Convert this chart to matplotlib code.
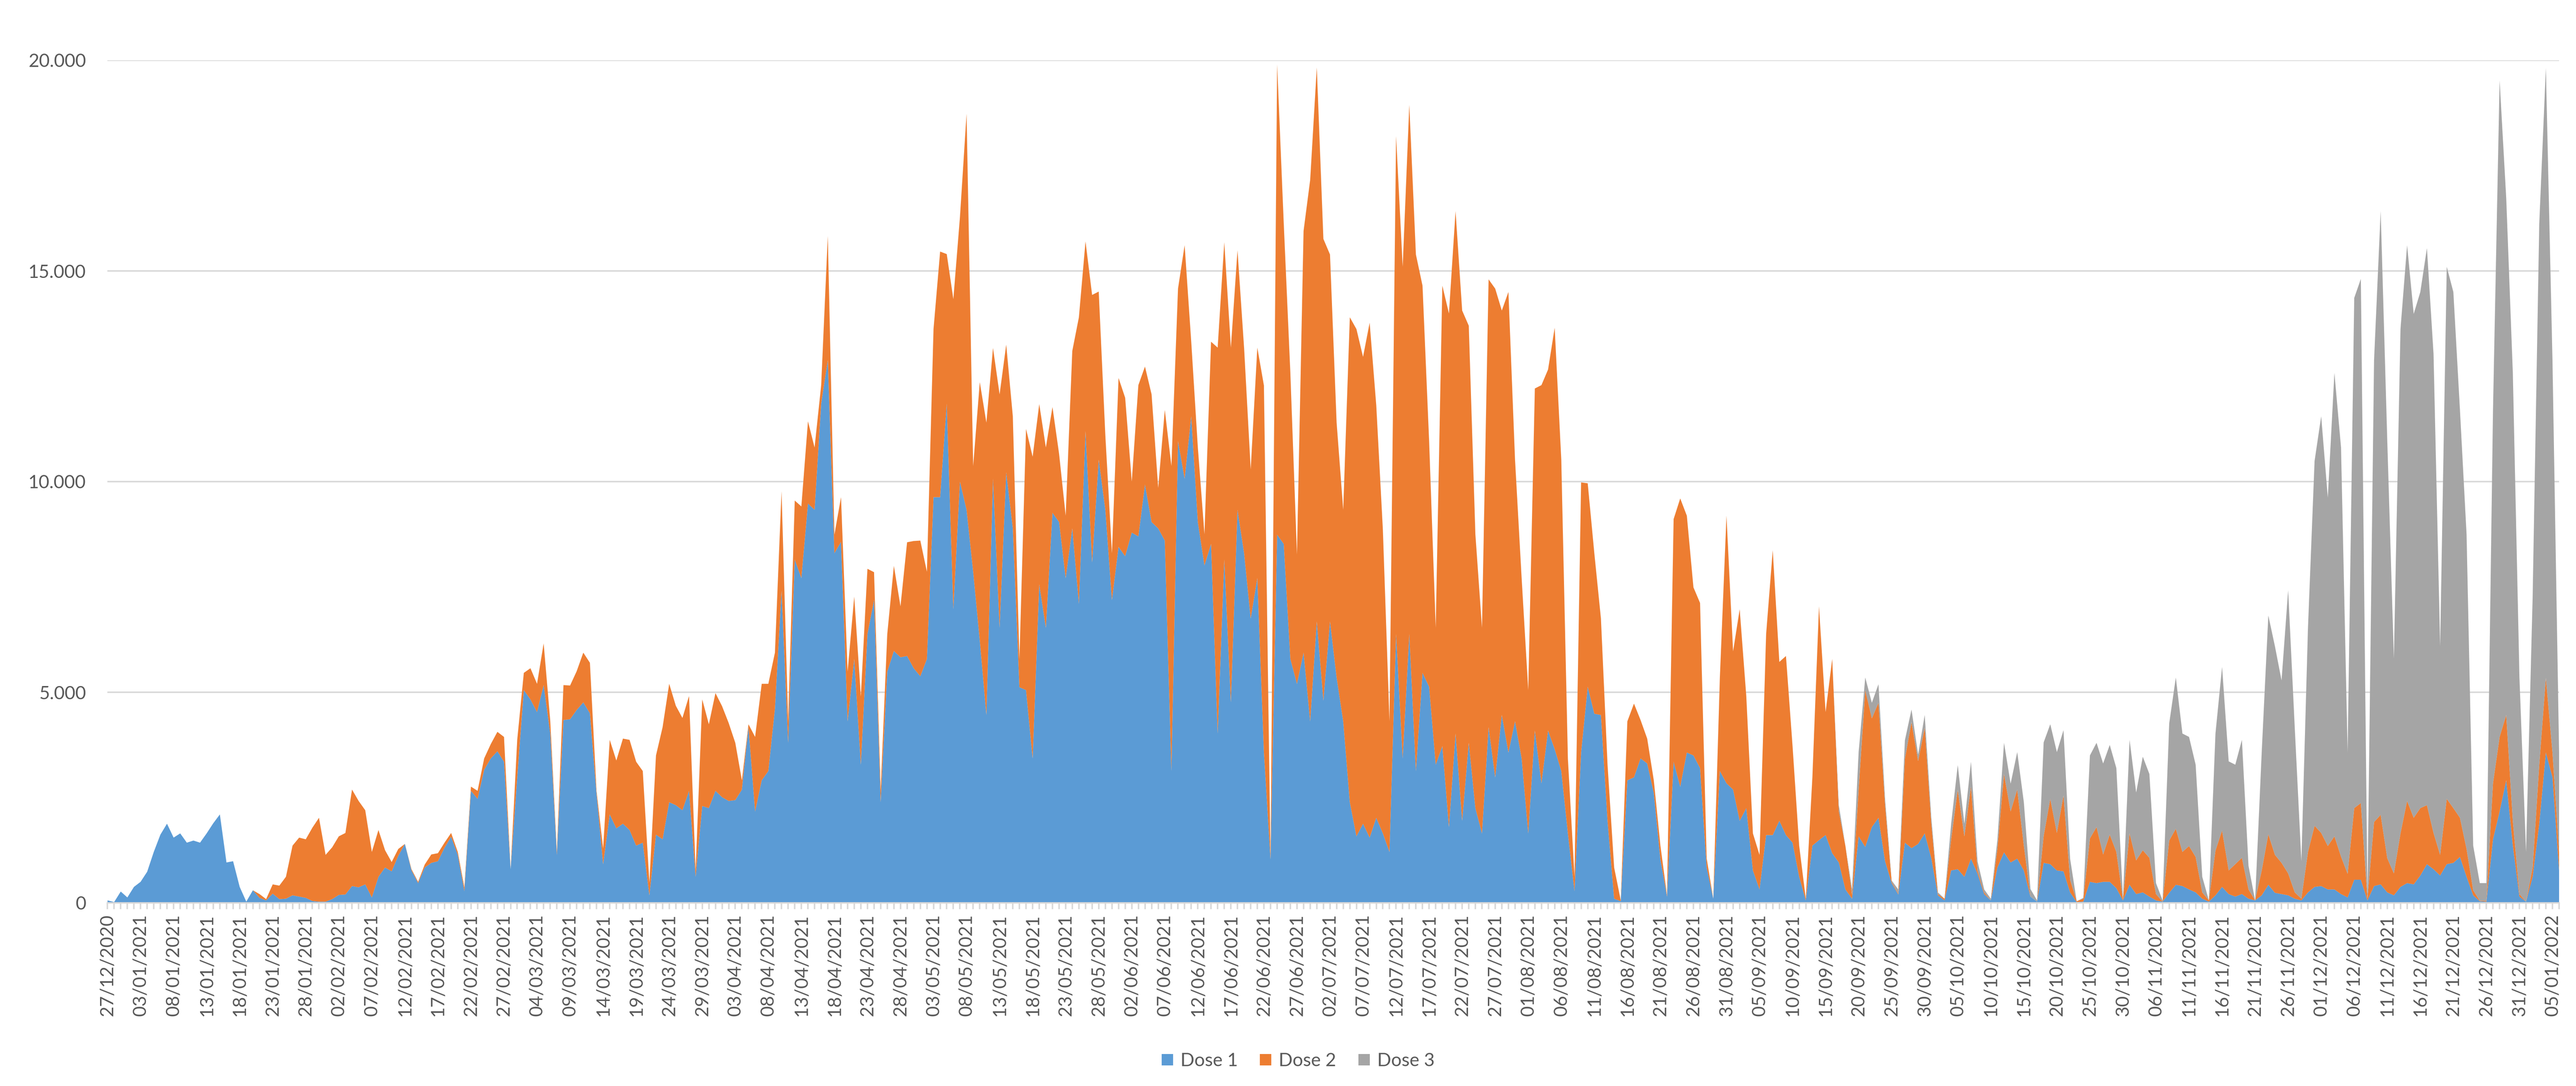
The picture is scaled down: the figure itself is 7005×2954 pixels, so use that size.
import matplotlib
matplotlib.use("Agg")
import matplotlib.pyplot as plt
import numpy as np
import pandas as pd
from matplotlib.ticker import FuncFormatter, MultipleLocator

# ---------------- data ----------------
first_day = "2020-12-27"
last_day = "2022-01-06"
missing_days = ["2020-12-28", "2020-12-29", "2021-10-31", "2021-11-01"]

series_names = ["Dose 1", "Dose 2", "Dose 3"]
series_colors = ["#5B9BD5", "#ED7D31", "#A5A5A5"]

dose1 = [
    60, 20, 270, 130, 380, 500, 740, 1210, 1620, 1880,
    1550, 1650, 1430, 1480, 1430, 1650, 1890, 2100, 960, 990,
    380, 30, 300, 120, 60, 220, 90, 100, 180, 150,
    120, 45, 30, 30, 90, 190, 200, 400, 370, 440,
    130, 620, 840, 750, 1120, 1400, 770, 470, 840, 950,
    990, 1310, 1570, 1140, 280, 2660, 2470, 3160, 3430, 3600,
    3350, 800, 2980, 5050, 4830, 4530, 5170, 4020, 1140, 4340,
    4360, 4580, 4760, 4500, 2590, 920, 2100, 1770, 1880, 1730,
    1360, 1430, 180, 1620, 1510, 2390, 2320, 2200, 2660, 620,
    2300, 2250, 2660, 2510, 2420, 2440, 2690, 4170, 2170, 2910,
    3130, 4610, 7410, 3800, 8150, 7710, 9480, 9330, 11850, 12880,
    8300, 8570, 4310, 5790, 3280, 6380, 7190, 2390, 5490, 5980,
    5830, 5860, 5570, 5380, 5790, 9630, 9630, 11850, 6970, 10000,
    9330, 7860, 6230, 4460, 10070, 6530, 10220, 8890, 5120, 5050,
    3430, 7560, 6530, 9260, 9040, 7710, 8890, 7100, 11200, 8080,
    10520, 9330, 7190, 8450, 8230, 8790, 8700, 9930, 9040, 8890,
    8600, 3130, 10960, 10070, 11550, 9040, 8010, 8520, 4020, 8150,
    4760, 9330, 8300, 6750, 7710, 3570, 1030, 8740, 8520, 5790,
    5200, 5940, 4310, 6680, 4800, 6680, 5350, 4310, 2390, 1580,
    1880, 1550, 2020, 1650, 1210, 6380, 3430, 6380, 3130, 5460,
    5130, 3280, 3720, 1800, 4020, 1950, 3800, 2250, 1650, 4170,
    2980, 4460, 3570, 4310, 3430, 1650, 4090, 2840, 4090, 3650,
    3130, 1650, 280, 3570, 5130, 4490, 4460, 1950, 100, 40,
    2910, 2980, 3430, 3310, 2610, 1030, 150, 3350, 2760, 3570,
    3500, 3200, 840, 100, 3130, 2840, 2690, 1950, 2250, 770,
    320, 1610, 1610, 1950, 1610, 1430, 620, 60, 1360, 1490,
    1610, 1180, 960, 320, 100, 1580, 1330, 1800, 2020, 990,
    470, 200, 1430, 1300, 1400, 1650, 1060, 180, 60, 770,
    800, 620, 1050, 690, 210, 60, 840, 1200, 960, 1050,
    770, 150, 30, 950, 920, 770, 750, 250, 20, 30,
    500, 470, 500, 500, 350, 60, 430, 210, 250, 150,
    60, 30, 240, 430, 400, 320, 250, 100, 30, 180,
    380, 210, 150, 210, 100, 60, 180, 430, 240, 210,
    180, 100, 60, 250, 380, 400, 320, 320, 210, 130,
    550, 550, 60, 400, 440, 250, 180, 380, 470, 440,
    650, 920, 800, 650, 920, 950, 1090, 620, 180, 40,
    30, 1510, 2170, 2910, 1360, 150, 30, 620, 1880, 3570,
    2980, 770,
]

dose2 = [
    0, 0, 0, 0, 0, 0, 0, 0, 0, 0,
    0, 0, 0, 0, 0, 0, 0, 0, 0, 0,
    0, 0, 0, 90, 30, 220, 320, 520, 1180, 1400,
    1390, 1740, 1990, 1110, 1230, 1390, 1460, 2290, 2050, 1760,
    1080, 1110, 410, 220, 160, 0, 30, 30, 70, 200,
    190, 120, 90, 70, 90, 100, 190, 270, 340, 460,
    590, 0, 890, 410, 740, 670, 990, 300, 70, 830,
    800, 920, 1180, 1200, 70, 370, 1770, 1610, 2020, 2140,
    1990, 1700, 300, 1880, 2660, 2810, 2360, 2190, 2250, 150,
    2530, 1990, 2320, 2160, 1850, 1360, 220, 70, 1770, 2290,
    2070, 1330, 2360, 520, 1400, 1700, 1950, 1480, 440, 2950,
    440, 1060, 1180, 1480, 1620, 1550, 660, 300, 890, 2020,
    1210, 2700, 3020, 3220, 2070, 3990, 5830, 3550, 7360, 6280,
    9400, 2510, 6130, 6940, 3100, 5540, 3030, 2660, 660, 6200,
    7160, 4280, 4280, 2510, 1620, 1480, 4210, 6800, 4500, 6350,
    3990, 1770, 1110, 4010, 3760, 1210, 3590, 2800, 3030, 960,
    3100, 7240, 3620, 5540, 1770, 1770, 740, 4800, 9160, 7530,
    8420, 6160, 4870, 3540, 5470, 8710, 30, 11160, 7610, 6790,
    3070, 10010, 12850, 13150, 10960, 8710, 6050, 5020, 11510, 12040,
    11080, 12220, 9790, 7210, 3100, 11820, 11670, 12560, 12260, 9190,
    5830, 3250, 10930, 12190, 12400, 12110, 9900, 6500, 4880, 10630,
    11600, 9600, 10930, 6210, 4280, 3400, 8120, 9450, 8570, 10000,
    7390, 1770, 350, 6410, 4830, 3810, 2290, 1330, 740, 20,
    1400, 1750, 910, 590, 300, 330, 30, 5760, 6840, 5620,
    3990, 3920, 220, 0, 2220, 6350, 3280, 5020, 2650, 880,
    820, 4770, 6760, 3770, 4250, 2290, 740, 40, 1620, 5550,
    2920, 4610, 1210, 1030, 100, 1110, 3720, 2580, 2730, 1330,
    30, 20, 1990, 2990, 1970, 2510, 810, 30, 40, 740,
    1880, 960, 1710, 70, 40, 0, 440, 1860, 1210, 1640,
    590, 0, 0, 640, 1550, 890, 1800, 300, 20, 70,
    1030, 1330, 650, 1120, 860, 20, 1220, 800, 1000, 920,
    150, 0, 1240, 1330, 810, 1030, 840, 150, 30, 1060,
    1340, 560, 770, 860, 220, 0, 590, 1200, 900, 740,
    520, 150, 40, 960, 1450, 1260, 1030, 1260, 890, 560,
    1700, 1820, 40, 1520, 1650, 810, 520, 1270, 1950, 1580,
    1600, 1400, 860, 490, 1550, 1300, 930, 660, 120, 10,
    20, 1330, 1770, 1550, 590, 60, 0, 220, 1400, 1770,
    590, 440,
]

dose3 = [
    0, 0, 0, 0, 0, 0, 0, 0, 0, 0, 0, 0, 0, 0, 0, 0, 0, 0, 0, 0,
    0, 0, 0, 0, 0, 0, 0, 0, 0, 0, 0, 0, 0, 0, 0, 0, 0, 0, 0, 0,
    0, 0, 0, 0, 0, 0, 0, 0, 0, 0, 0, 0, 0, 0, 0, 0, 0, 0, 0, 0,
    0, 0, 0, 0, 0, 0, 0, 0, 0, 0, 0, 0, 0, 0, 0, 0, 0, 0, 0, 0,
    0, 0, 0, 0, 0, 0, 0, 0, 0, 0, 0, 0, 0, 0, 0, 0, 0, 0, 0, 0,
    0, 0, 0, 0, 0, 0, 0, 0, 0, 0, 0, 0, 0, 0, 0, 0, 0, 0, 0, 0,
    0, 0, 0, 0, 0, 0, 0, 0, 0, 0, 0, 0, 0, 0, 0, 0, 0, 0, 0, 0,
    0, 0, 0, 0, 0, 0, 0, 0, 0, 0, 0, 0, 0, 0, 0, 0, 0, 0, 0, 0,
    0, 0, 0, 0, 0, 0, 0, 0, 0, 0, 0, 0, 0, 0, 0, 0, 0, 0, 0, 0,
    0, 0, 0, 0, 0, 0, 0, 0, 0, 0, 0, 0, 0, 0, 0, 0, 0, 0, 0, 0,
    0, 0, 0, 0, 0, 0, 0, 0, 0, 0, 0, 0, 0, 0, 0, 0, 0, 0, 0, 0,
    0, 0, 0, 0, 0, 0, 0, 0, 0, 0, 0, 0, 0, 0, 0, 0, 0, 0, 0, 0,
    0, 0, 0, 0, 0, 0, 0, 0, 0, 0, 0, 0, 0, 0, 0, 0, 0, 0, 0, 0,
    0, 0,
    150, 0, 125, 890, 300, 370, 440, 150,
    30, 100, 440, 300, 150, 300, 150, 40, 0, 370,
    590, 300, 590, 220, 70, 40, 220, 740, 660, 890,
    1030, 180, 30, 2220, 1770, 1920, 1550, 500, 0, 20,
    1970, 2000, 2160, 2130, 1990, 20, 2220, 1610, 2220, 1990,
    260, 30, 2780, 3590, 2810, 2590, 2190, 370, 0, 2780,
    3880, 2590, 2360, 2800, 560, 0, 2810, 5190, 4950, 4330,
    6720, 3900, 890, 5320, 8660, 9890, 8270, 11000, 9710, 2880,
    12110, 12440, 80, 10960, 14330, 9900, 5100, 11970, 13190, 11960,
    12250, 13220, 11370, 4950, 12630, 12250, 9670, 7460, 1060, 420,
    420, 8860, 15580, 12270, 10630, 5140, 1180, 6420, 12840, 14480,
    9300, 2360,
]

# category labels (dates present in the data)
all_days = pd.date_range(first_day, last_day, freq="D")
dates = all_days.difference(pd.to_datetime(missing_days))
categories = [d.strftime("%d/%m/%Y") for d in dates]
label_step = 5

# ---------------- plot ----------------
plt.rcParams["font.family"] = ["Lato", "DejaVu Sans"]
text_color = "#595959"
grid_color = "#D9D9D9"

W, H = 7005, 2954
fig = plt.figure(figsize=(W / 100, H / 100), dpi=100)
left, right, top, bottom = 292.4, 6959, 164, 2456
ax = fig.add_axes([left / W, 1 - bottom / H, (right - left) / W, (bottom - top) / H])

n = min(len(categories), len(dose1), len(dose2), len(dose3))
x = np.arange(n)
ax.stackplot(x, dose1[:n], dose2[:n], dose3[:n], colors=series_colors,
             labels=series_names, linewidth=0, zorder=2)

ax.set_xlim(0, n - 1)
ax.set_ylim(0, 20000)
ax.yaxis.set_major_locator(MultipleLocator(5000))
ax.yaxis.set_major_formatter(FuncFormatter(lambda v, p: f"{int(v):,}".replace(",", ".")))
ax.grid(axis="y", color=grid_color, linewidth=3, zorder=0)
ax.set_axisbelow(True)
for s in ["top", "right", "left"]:
    ax.spines[s].set_visible(False)
ax.spines["bottom"].set_color(grid_color)
ax.spines["bottom"].set_linewidth(3)
ax.spines["bottom"].set_zorder(3)

ax.set_xticks(x, minor=True)
ax.set_xticks(x[::label_step])
ax.set_xticklabels([categories[i] for i in x[::label_step]], rotation=90)
ax.tick_params(axis="x", which="both", direction="out", length=12, width=3, color=grid_color)
ax.tick_params(axis="x", which="major", labelsize=36, labelcolor=text_color, pad=10)
ax.tick_params(axis="y", length=0, labelsize=36, labelcolor=text_color, pad=42)

leg = fig.legend(loc="center", bbox_to_anchor=(3530 / W, 1 - 2886 / H), ncol=3,
                 frameon=False, fontsize=36, handlelength=0.62, handleheight=0.58,
                 handletextpad=0.4, columnspacing=1.2, labelcolor=text_color)

fig.savefig("out.png", dpi=100, facecolor="white")
